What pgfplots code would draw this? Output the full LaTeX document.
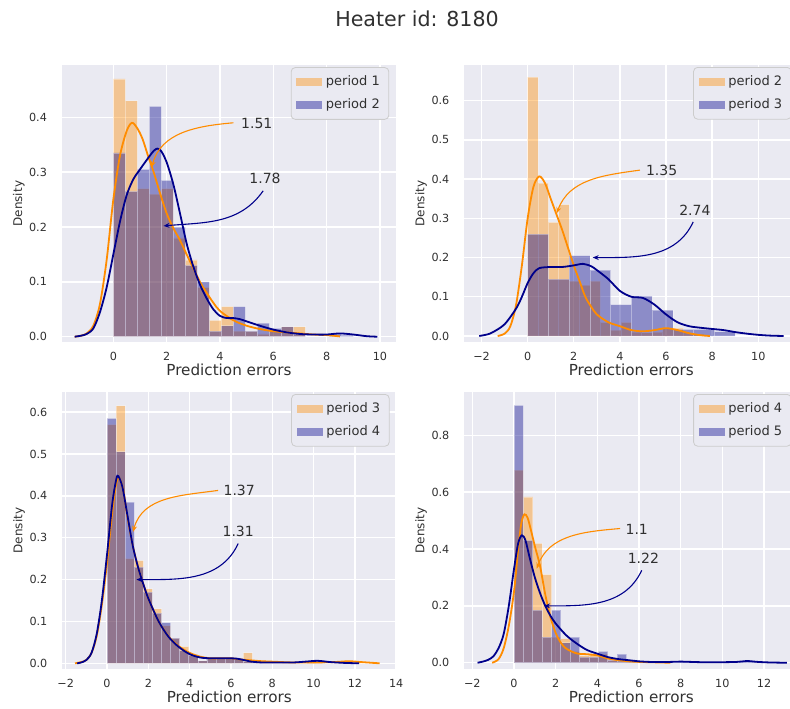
\documentclass[border=0pt]{standalone}
\usepackage{fontspec}
\setmainfont{DejaVu Sans}
\usepackage{pgfplots}
\pgfplotsset{compat=1.18}
\usetikzlibrary{arrows.meta}
\definecolor{bgc}{HTML}{EAEAF2}
\definecolor{txt}{HTML}{303030}
\definecolor{dorange}{HTML}{FF8C00}
\definecolor{dblue}{HTML}{00008B}
\definecolor{lorange}{HTML}{F2C491}
\definecolor{lblue}{HTML}{8C8CC9}
\definecolor{lgray}{HTML}{CCCCCC}
\newcommand\ticksize{\fontsize{5.6}{6.5}\selectfont}
\newcommand\legsize{\fontsize{6.5}{7.5}\selectfont}
\newcommand\annsize{\fontsize{7}{8}\selectfont}
\newcommand\xlabsize{\fontsize{7.6}{9}\selectfont}
\newcommand\ylabsize{\fontsize{6}{7}\selectfont}
\newcommand\titlesize{\fontsize{10.3}{12}\selectfont}
\tikzset{ann/.style={#1, line width=0.55pt, -{Stealth[length=3pt,width=2.4pt]}}}
\pgfplotsset{
  sub/.style={
    scale only axis, width=167.3pt, height=138.5pt, anchor=south west,
    axis background/.style={fill=bgc},
    axis line style={draw=none},
    tick style={draw=none},
    grid=major, grid style={white, line width=0.7pt},
    tick label style={font=\ticksize, text=txt},
    xticklabel style={yshift=-1.6pt},
    yticklabel style={xshift=-3.8pt},
    xlabel={Prediction errors}, ylabel={Density},
    xlabel style={font=\xlabsize, text=txt, at={(axis description cs:0.5,-0.101)}, anchor=center},
    ylabel style={font=\ylabsize, text=txt, at={(axis description cs:-0.128,0.5)}, anchor=center},
    legend cell align=left,
    legend style={at={(1,1)}, anchor=north east, xshift=-3.5pt, yshift=-1pt,
      fill=bgc, draw=lgray, rounded corners=2pt, font=\legsize, text=txt,
      inner xsep=2.5pt, inner ysep=2pt, row sep=1pt},
  },
  hbar/.style={ybar, bar shift=0pt, fill=#1, fill opacity=0.4, draw=white, draw opacity=0.35, line width=0.4pt, forget plot},
  kde/.style={#1, line width=0.9pt, smooth, mark=none, forget plot},
  legO/.style={legend image code/.code={\fill[lorange, sharp corners] (0pt,-1.8pt) rectangle (12.5pt,1.8pt);}},
  legB/.style={legend image code/.code={\fill[lblue, sharp corners] (0pt,-1.8pt) rectangle (12.5pt,1.8pt);}},
}
\begin{document}
\begin{tikzpicture}
\useasboundingbox (0,0) rectangle (395pt,354pt);
\node[font=\titlesize, text=txt, anchor=base] at (208.5pt,340.7pt) {Heater id: 8180};

% ---------------- subplot 1
\begin{axis}[sub, at={(30.8pt,182.9pt)},
  xmin=-1.94, xmax=10.61, ymin=-0.01, ymax=0.495,
  xtick={0,2,4,6,8,10}, xticklabels={0,2,4,6,8,10},
  ytick={0,0.1,0.2,0.3,0.4}, yticklabels={0.0,0.1,0.2,0.3,0.4}]
\addlegendimage{legO}\addlegendentry{period 1}
\addlegendimage{legB}\addlegendentry{period 2}
\addplot[hbar=dorange, bar width=0.45] coordinates {
(0.225,0.47) (0.675,0.43) (1.125,0.27) (1.575,0.26) (2.025,0.27) (2.475,0.18)
(2.925,0.14) (3.375,0.09) (3.825,0.03) (4.275,0.055) (4.725,0.01) (5.175,0.01)
(5.625,0.005) (6.075,0.01) (6.525,0.018) (6.975,0.018)};
\addplot[hbar=dblue, bar width=0.45] coordinates {
(0.225,0.335) (0.675,0.265) (1.125,0.305) (1.575,0.42) (2.025,0.285) (2.475,0.20)
(2.925,0.13) (3.375,0.10) (3.825,0.01) (4.275,0.02) (4.725,0.055) (5.175,0.01)
(5.625,0.025) (6.075,0.015) (6.525,0.018) (6.975,0.005) (8.325,0.005) (8.775,0.003)};
\addplot[kde=dorange] coordinates {
(-1.45,0) (-1.2,0.002) (-1.0,0.006) (-0.75,0.02) (-0.5,0.06) (-0.25,0.14) (0,0.25)
(0.25,0.33) (0.5,0.375) (0.7,0.39) (0.9,0.38) (1.1,0.36) (1.3,0.33) (1.5,0.302)
(1.75,0.262) (2.0,0.225) (2.25,0.198) (2.5,0.176) (2.75,0.15) (3.0,0.125) (3.25,0.1)
(3.5,0.08) (3.75,0.062) (4.0,0.047) (4.5,0.03) (5.0,0.02) (5.5,0.014) (6.0,0.01)
(6.5,0.008) (7.0,0.006) (7.5,0.004) (8.0,0.003) (8.5,0.0005)};
\addplot[kde=dblue] coordinates {
(-1.45,0) (-1.2,0.002) (-1.0,0.005) (-0.75,0.015) (-0.5,0.045) (-0.25,0.09) (0,0.15)
(0.25,0.21) (0.5,0.258) (0.75,0.287) (1.0,0.305) (1.25,0.322) (1.5,0.338) (1.65,0.343)
(1.8,0.338) (2.0,0.318) (2.25,0.278) (2.5,0.225) (2.75,0.17) (3.0,0.128) (3.25,0.095)
(3.5,0.07) (3.75,0.05) (4.0,0.038) (4.25,0.034) (4.5,0.034) (4.75,0.032) (5.0,0.028)
(5.5,0.02) (6.0,0.013) (6.5,0.008) (7.0,0.005) (7.5,0.004) (8.0,0.004) (8.5,0.006)
(9.0,0.004) (9.5,0.001) (9.9,0)};
\draw[ann=dorange] (axis cs:4.5,0.39) to[out=185,in=75] (axis cs:1.44,0.309);
\node[font=\annsize, text=txt] at (axis cs:5.38,0.389) {1.51};
\draw[ann=dblue] (axis cs:5.62,0.266) to[out=-125,in=5] (axis cs:1.88,0.202);
\node[font=\annsize, text=txt] at (axis cs:5.69,0.288) {1.78};
\end{axis}

% ---------------- subplot 2
\begin{axis}[sub, at={(232pt,183pt)},
  xmin=-2.76, xmax=11.75, ymin=-0.0153, ymax=0.691,
  xtick={-2,0,2,4,6,8,10}, xticklabels={−2,0,2,4,6,8,10},
  ytick={0,0.1,0.2,0.3,0.4,0.5,0.6}, yticklabels={0.0,0.1,0.2,0.3,0.4,0.5,0.6}]
\addlegendimage{legO}\addlegendentry{period 2}
\addlegendimage{legB}\addlegendentry{period 3}
\addplot[hbar=dorange, bar width=0.45] coordinates {
(0.225,0.66) (0.675,0.39) (1.125,0.29) (1.575,0.335) (2.025,0.14) (2.475,0.13)
(2.925,0.14) (3.375,0.035) (3.825,0.015) (4.275,0.035) (4.725,0.01) (5.175,0.008)
(5.625,0.01) (6.075,0.02) (6.525,0.02) (6.975,0.008) (7.425,0.005)};
\addplot[hbar=dblue, bar width=0.9] coordinates {
(0.45,0.26) (1.35,0.145) (2.25,0.205) (3.15,0.168) (4.05,0.08) (4.95,0.102)
(5.85,0.066) (6.75,0.017) (7.65,0.017) (8.55,0.011)};
\addplot[kde=dorange] coordinates {
(-1.3,0) (-1.0,0.006) (-0.75,0.025) (-0.5,0.08) (-0.25,0.18) (0,0.3) (0.25,0.38)
(0.5,0.407) (0.75,0.39) (1.0,0.35) (1.25,0.31) (1.5,0.27) (1.75,0.225) (2.0,0.18)
(2.25,0.14) (2.5,0.1) (2.75,0.075) (3.0,0.055) (3.5,0.035) (4.0,0.025) (4.5,0.015)
(5.0,0.012) (5.5,0.015) (6.0,0.02) (6.5,0.015) (7.0,0.007) (7.5,0.002) (7.9,0)};
\addplot[kde=dblue] coordinates {
(-2.1,0) (-1.75,0.004) (-1.5,0.01) (-1.0,0.03) (-0.5,0.07) (-0.25,0.1) (0,0.135)
(0.25,0.16) (0.5,0.173) (1.0,0.176) (1.5,0.176) (2.0,0.18) (2.4,0.184) (2.75,0.178)
(3.0,0.168) (3.5,0.145) (4.0,0.115) (4.5,0.1) (5.0,0.097) (5.5,0.08) (6.0,0.055)
(6.5,0.035) (7.0,0.025) (7.5,0.021) (8.0,0.018) (8.5,0.015) (9.0,0.01) (9.5,0.006)
(10.0,0.003) (10.5,0.001) (11.1,0)};
\draw[ann=dorange] (axis cs:4.87,0.423) to[out=188,in=70] (axis cs:1.26,0.313);
\node[font=\annsize, text=txt] at (axis cs:5.81,0.423) {1.35};
\draw[ann=dblue] (axis cs:7.18,0.291) to[out=-115,in=0] (axis cs:2.82,0.2);
\node[font=\annsize, text=txt] at (axis cs:7.25,0.32) {2.74};
\end{axis}

% ---------------- subplot 3
\begin{axis}[sub, at={(31pt,19.5pt)},
  xmin=-2.18, xmax=14.02, ymin=-0.0136, ymax=0.648,
  xtick={-2,0,2,4,6,8,10,12,14}, xticklabels={−2,0,2,4,6,8,10,12,14},
  ytick={0,0.1,0.2,0.3,0.4,0.5,0.6}, yticklabels={0.0,0.1,0.2,0.3,0.4,0.5,0.6}]
\addlegendimage{legO}\addlegendentry{period 3}
\addlegendimage{legB}\addlegendentry{period 4}
\addplot[hbar=dorange, bar width=0.44] coordinates {
(0.22,0.57) (0.66,0.615) (1.10,0.25) (1.54,0.245) (1.98,0.178) (2.42,0.13)
(2.86,0.09) (3.30,0.06) (3.74,0.04) (4.18,0.02) (4.62,0.006) (5.06,0.012)
(5.50,0.012) (5.94,0.012) (6.38,0.01) (6.82,0.025) (7.26,0.005) (7.70,0.004)
(8.14,0.003) (8.58,0.003) (9.90,0.002) (11.22,0.002) (11.66,0.004) (12.10,0.002)};
\addplot[hbar=dblue, bar width=0.44] coordinates {
(0.22,0.585) (0.66,0.505) (1.10,0.385) (1.54,0.23) (1.98,0.17) (2.42,0.12)
(2.86,0.097) (3.30,0.06) (3.74,0.03) (4.18,0.02) (4.62,0.006) (5.06,0.012)
(5.50,0.012) (5.94,0.012) (6.38,0.012) (6.82,0.004) (7.26,0.002) (9.90,0.003)
(10.34,0.006)};
\addplot[kde=dorange] coordinates {
(-1.55,0) (-1.25,0.003) (-1.0,0.008) (-0.75,0.025) (-0.5,0.065) (-0.25,0.14) (0,0.24)
(0.25,0.36) (0.45,0.43) (0.6,0.442) (0.8,0.41) (1.0,0.345) (1.25,0.28) (1.5,0.23)
(1.75,0.19) (2.0,0.155) (2.5,0.1) (3.0,0.063) (3.5,0.04) (4.0,0.025) (4.5,0.016)
(5.0,0.012) (5.5,0.012) (6.0,0.012) (6.5,0.009) (7.0,0.007) (7.5,0.005) (8.0,0.004)
(9.0,0.002) (10.0,0.002) (11.0,0.003) (11.7,0.005) (12.3,0.003) (13.2,0)};
\addplot[kde=dblue] coordinates {
(-1.45,0) (-1.25,0.002) (-1.0,0.008) (-0.75,0.025) (-0.5,0.07) (-0.25,0.15) (0,0.26)
(0.25,0.38) (0.45,0.44) (0.55,0.447) (0.75,0.42) (1.0,0.35) (1.25,0.28) (1.5,0.23)
(1.75,0.19) (2.0,0.155) (2.5,0.1) (3.0,0.062) (3.5,0.038) (4.0,0.022) (4.5,0.014)
(5.0,0.012) (5.5,0.012) (6.0,0.012) (6.3,0.011) (6.7,0.007) (7.0,0.004) (7.5,0.002)
(8.0,0.002) (9.0,0.002) (9.6,0.004) (10.2,0.006) (10.8,0.003) (11.5,0.001) (12.2,0)};
\draw[ann=dorange] (axis cs:5.38,0.413) to[out=188,in=75] (axis cs:1.26,0.314);
\node[font=\annsize, text=txt] at (axis cs:6.4,0.413) {1.37};
\draw[ann=dblue] (axis cs:6.35,0.286) to[out=-115,in=0] (axis cs:1.42,0.2);
\node[font=\annsize, text=txt] at (axis cs:6.35,0.314) {1.31};
\end{axis}

% ---------------- subplot 4
\begin{axis}[sub, at={(232pt,19.5pt)},
  xmin=-2.4, xmax=13.66, ymin=-0.022, ymax=0.952,
  xtick={-2,0,2,4,6,8,10,12}, xticklabels={−2,0,2,4,6,8,10,12},
  ytick={0,0.2,0.4,0.6,0.8}, yticklabels={0.0,0.2,0.4,0.6,0.8}]
\addlegendimage{legO}\addlegendentry{period 4}
\addlegendimage{legB}\addlegendentry{period 5}
\addplot[hbar=dorange, bar width=0.45] coordinates {
(0.225,0.677) (0.675,0.583) (1.125,0.42) (1.575,0.31) (2.025,0.09) (2.475,0.085)
(2.925,0.04) (3.375,0.025) (3.825,0.03) (4.275,0.03) (4.725,0.01) (5.175,0.005)
(5.625,0.003) (6.075,0.002)};
\addplot[hbar=dblue, bar width=0.45] coordinates {
(0.225,0.905) (0.675,0.43) (1.125,0.185) (1.575,0.09) (2.025,0.185) (2.475,0.07)
(2.925,0.09) (3.375,0.02) (3.825,0.02) (4.275,0.04) (4.725,0.01) (5.175,0.03)
(5.625,0.005) (6.075,0.004) (6.525,0.002) (7.425,0.003) (8.325,0.002) (8.775,0.002)
(11.025,0.003) (11.475,0.002)};
\addplot[kde=dorange] coordinates {
(-1.05,0) (-0.75,0.012) (-0.5,0.05) (-0.25,0.13) (0,0.25) (0.2,0.4) (0.35,0.49)
(0.5,0.522) (0.65,0.51) (0.8,0.47) (1.0,0.41) (1.25,0.34) (1.5,0.24) (1.75,0.16)
(2.0,0.105) (2.25,0.07) (2.5,0.05) (3.0,0.033) (3.5,0.03) (4.0,0.026) (4.5,0.015)
(5.0,0.009) (5.5,0.005) (6.0,0.003) (7.0,0.001) (7.5,0)};
\addplot[kde=dblue] coordinates {
(-1.75,0) (-1.5,0.004) (-1.25,0.01) (-1.0,0.022) (-0.75,0.05) (-0.5,0.1) (-0.25,0.2)
(0,0.33) (0.2,0.42) (0.38,0.448) (0.55,0.43) (0.75,0.37) (1.0,0.3) (1.25,0.245)
(1.5,0.2) (1.75,0.165) (2.0,0.138) (2.5,0.097) (3.0,0.068) (3.5,0.045) (4.0,0.032)
(4.5,0.02) (5.0,0.013) (5.5,0.009) (6.0,0.005) (6.5,0.003) (7.0,0.003) (7.5,0.003)
(8.0,0.004) (8.5,0.003) (9.0,0.002) (10.0,0.002) (10.7,0.003) (11.2,0.006)
(11.7,0.003) (12.3,0.001) (13.1,0)};
\draw[ann=dorange] (axis cs:5.09,0.472) to[out=185,in=70] (axis cs:1.09,0.331);
\node[font=\annsize, text=txt] at (axis cs:5.89,0.468) {1.1};
\draw[ann=dblue] (axis cs:6.13,0.325) to[out=-115,in=0] (axis cs:1.44,0.2);
\node[font=\annsize, text=txt] at (axis cs:6.21,0.367) {1.22};
\end{axis}
\end{tikzpicture}
\end{document}
